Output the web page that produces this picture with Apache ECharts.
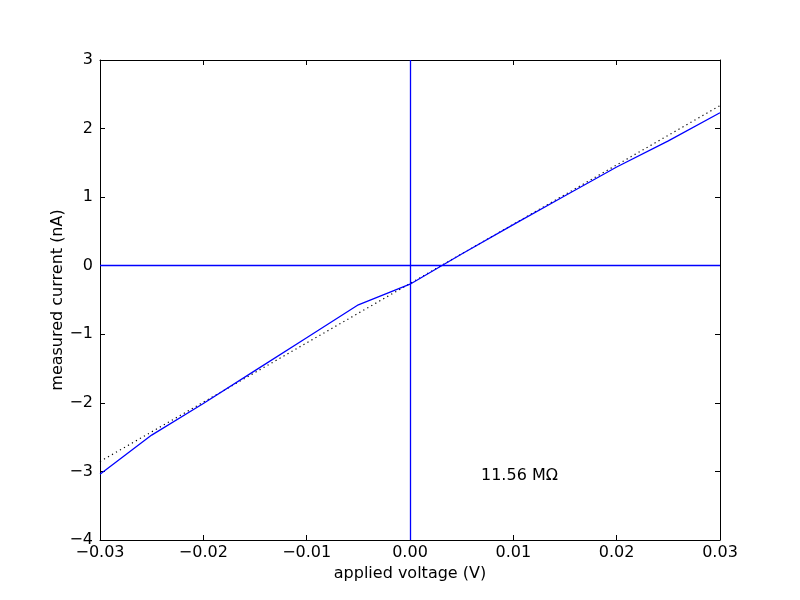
<!DOCTYPE html>
<html>
<head>
<meta charset="utf-8">
<script src="https://cdn.jsdelivr.net/npm/echarts@6/dist/echarts.min.js"></script>
<style>html,body{margin:0;padding:0;background:#fff}#c{width:800px;height:600px}</style>
</head>
<body>
<div id="c"></div>
<script>
const voltage = [-0.03, -0.025, -0.02, -0.015, -0.01, -0.005, 0, 0.005, 0.01, 0.015, 0.02, 0.025, 0.03];
const current = [-3.04, -2.47, -2.01, -1.53, -1.05, -0.57, -0.27, 0.17, 0.60, 1.02, 1.44, 1.82, 2.23];
const fitVoltage = [-0.03, 0.03];
const fitCurrent = [-2.855, 2.335];
const resistanceLabel = '11.56 MΩ';
const xLabel = 'applied voltage (V)';
const yLabel = 'measured current (nA)';

const font = 'DejaVu Sans';
const minus = s => String(s).replace('-', '\u2212');
const chart = echarts.init(document.getElementById('c'), null, {renderer: 'canvas'});
const baseAxis = {
  axisLine: {show: true, onZero: false, lineStyle: {color: '#000', width: 1}},
  axisTick: {show: true, inside: true, length: 5, lineStyle: {color: '#000'}},
  splitLine: {show: false}
};
chart.setOption({
  animation: false,
  backgroundColor: '#fff',
  grid: {left: 100, right: 80, top: 60, bottom: 60},
  xAxis: [
    Object.assign({}, baseAxis, {
      type: 'value', min: -0.03, max: 0.03, interval: 0.01, position: 'bottom',
      name: xLabel, nameLocation: 'middle', nameGap: 25,
      nameTextStyle: {fontFamily: font, fontSize: 16, color: '#000'},
      axisLabel: {fontFamily: font, fontSize: 16, color: '#000', margin: 5,
        formatter: v => minus(v.toFixed(2))}
    }),
    Object.assign({}, baseAxis, {
      type: 'value', min: -0.03, max: 0.03, interval: 0.01, position: 'top',
      axisLabel: {show: false}
    })
  ],
  yAxis: [
    Object.assign({}, baseAxis, {
      type: 'value', min: -4, max: 3, interval: 1, position: 'left',
      name: yLabel, nameLocation: 'middle', nameGap: 34, nameRotate: 90,
      nameMoveOverlap: false,
      nameTextStyle: {fontFamily: font, fontSize: 16, color: '#000'},
      axisLabel: {fontFamily: font, fontSize: 16, color: '#000', margin: 7,
        formatter: v => minus(v)}
    }),
    Object.assign({}, baseAxis, {
      type: 'value', min: -4, max: 3, interval: 1, position: 'right',
      axisLabel: {show: false}
    })
  ],
  series: [
    {
      type: 'line', xAxisIndex: 0, yAxisIndex: 0,
      data: fitVoltage.map((v, i) => [v, fitCurrent[i]]),
      showSymbol: false, symbol: 'none',
      lineStyle: {color: '#000', width: 1.2, type: [1.2, 3.4]},
      z: 2
    },
    {
      type: 'line', xAxisIndex: 0, yAxisIndex: 0,
      data: voltage.map((v, i) => [v, current[i]]),
      showSymbol: false, symbol: 'none',
      lineStyle: {color: '#0000ff', width: 1.3},
      z: 3,
      markLine: {
        silent: true, symbol: 'none', label: {show: false},
        lineStyle: {color: '#0000ff', width: 1.3, type: 'solid'},
        data: [{xAxis: 0}, {yAxis: 0}]
      }
    }
  ],
  graphic: [{
    type: 'text', left: 481, top: 468,
    style: {text: resistanceLabel, font: '16px "DejaVu Sans"', fill: '#000'}
  }]
});
</script>
</body>
</html>
